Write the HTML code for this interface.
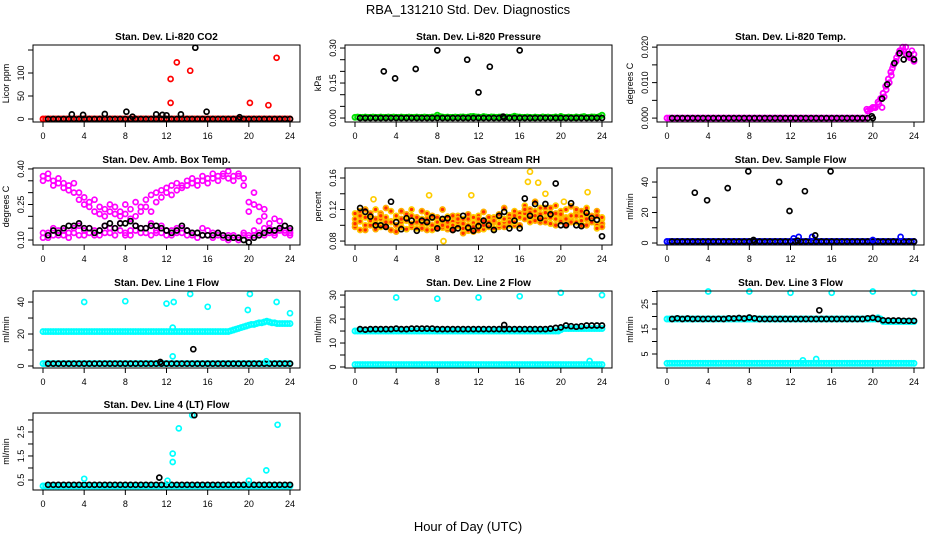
<!DOCTYPE html>
<html><head><meta charset="utf-8"><style>
body{margin:0;background:#fff}
svg{display:block;font-family:"Liberation Sans",Arial,sans-serif}
</style></head><body>
<svg id="c" width="936" height="540" viewBox="0 0 936 540">
<rect width="936" height="540" fill="#fff"/>
<text x="468" y="14" text-anchor="middle" font-size="13">RBA_131210  Std. Dev. Diagnostics</text>
<text x="468" y="531" text-anchor="middle" font-size="13">Hour of Day (UTC)</text>
</svg>
<script>
const xTicks=[0,4,8,12,16,20,24];
const titles=["Stan. Dev. Li-820 CO2","Stan. Dev. Li-820 Pressure","Stan. Dev. Li-820 Temp.","Stan. Dev. Amb. Box Temp.","Stan. Dev. Gas Stream RH","Stan. Dev. Sample Flow","Stan. Dev. Line 1 Flow","Stan. Dev. Line 2 Flow","Stan. Dev. Line 3 Flow","Stan. Dev. Line 4 (LT) Flow"];
const yTitles=["Licor ppm","kPa","degrees C","degrees C","percent","ml/min","ml/min","ml/min","ml/min","ml/min"];
const yTicks=[[0,50,100,150],[0,0.05,0.1,0.15,0.2,0.25,0.3],[0,0.005,0.01,0.015,0.02],[0.1,0.15,0.2,0.25,0.3,0.35,0.4],[0.08,0.1,0.12,0.14,0.16],[0,10,20,30,40],[0,10,20,30,40],[0,5,10,15,20,25,30],[5,10,15,20,25,30],[0.5,1,1.5,2,2.5,3]];
const yLabels=[["0","50","100",""],["0.00","","","0.15","","","0.30"],["0.000","","0.010","","0.020"],["0.10","","","0.25","","","0.40"],["0.08","","0.12","","0.16"],["0","","20","","40"],["0","","20","","40"],["0","","10","","20","","30"],["5","","15","","25",""],["0.5","","1.5","","2.5",""]];
const yRanges=[[-6.5,160.9],[-0.017,0.313],[-0.0011,0.0206],[0.079,0.404],[0.075,0.1727],[-1.3,49.2],[-1.25,46.9],[-0.42,31.7],[-0.6,30.2],[0.083,3.29]];

const co2Red=[0,0,0,0,0,0,0,0,0,0, 0,0,0,0,0,0,0,0,0,0, 0,0,0,0,0,0,0,0,0,0, 0,0,0,0,0,0,0,0,0,0, 0,0,0,0,0,0,0,0,0,0, 0,0,0,0,0,0,0,0,0,0, 0,0,0,0,0,0,0,0,0,0, 0,0,0,0,0,0,0,0,0,0, 0,0,0,0,0,0,0,0,0,0, 0,0,0,0,0,0,0];
const co2Black=[0,0,0,0,0,0,0,0,0,0, 0,0,0,0,0,0,0,0,0,0, 0,0,0,0,0,0,0,0,0,0, 0,0,0,0,0,0,0,0,0,0, 0,0,0,0,0,0,0,0];
const co2RedOutT=[12.4,12.4,13,14.3,20.1,21.9,22.7];
const co2RedOutV=[35,87,123,105,35,30,133];
const co2BlkOutT=[2.8,3.9,6,8.1,8.7,11,11.6,12,13.4,14.8,15.9,19.1];
const co2BlkOutV=[10,9,11,16,5,10,9,8,10,155,16,4];

const presGreen=[.003,.004,.003,.003,.004,.003,.003,.004,.003,.003, .004,.003,.003,.004,.003,.004,.003,.003,.004,.003, .003,.004,.003,.003,.004,.003,.003,.004,.003,.003, .004,.005,.012,.006,.004,.003,.004,.003,.003,.004, .003,.004,.005,.003,.004,.006,.007,.005,.004,.003, .006,.004,.003,.005,.004,.003,.004,.005,.003,.004, .003,.004,.008,.005,.004,.003,.003,.004,.003,.002, .004,.003,.002,.005,.003,.004,.002,.003,.005,.002, .007,.003,.002,.004,.003,.002,.005,.003,.004,.006, .002,.003,.005,.004,.003,.006,.012];
const presBlack=[0,0,0,0,0,0,0,0,0,0, 0,0,0,0,0,0,0,0,0,0, 0,0,0,0,0,0,0,0,0,0, 0,0,0,0,0,0,0,0,0,0, 0,0,0,0,0,0,0,0];
const presOutT=[2.8,3.9,5.9,8,10.9,12,13.1,16,14.4];
const presOutV=[0.2,0.17,0.21,0.29,0.25,0.11,0.22,0.29,0.006];

const tempMag=[0,0,0,0,0,0,0,0,0,0, 0,0,0,0,0,0,0,0,0,0, 0,0,0,0,0,0,0,0,0,0, 0,0,0,0,0,0,0,0,0,0, 0,0,0,0,0,0,0,0,0,0, 0,0,0,0,0,0,0,0,0,0, 0,0,0,0,0,0,0,0,0,0, 0,0,0,0,0,0,0,0,.002,.0025, .003,.003,.0045,.0055,.007,.009,.011,.013,.015,.016, .018,.019,.019,.018,.0175,.017,.016];
const tempMag2=[.0025,.003,.004,.003,.006,.008,.010,.012,.014,.017,.019,.020,.020,.017,.019,.018];
const tempMag2T=[19.4,20.1,20.6,20.9,21.1,21.3,21.6,21.8,21.9,22.3,22.6,22.9,23.2,23.6,23.8,24];
const tempBlack=[0,0,0,0,0,0,0,0,0,0, 0,0,0,0,0,0,0,0,0,0, 0,0,0,0,0,0,0,0,0,0, 0,0,0,0,0,0,0,0,0,0];
const tempOutT=[19.9,20.9,21.4,22.1,22.6,23,23.5,24];
const tempOutV=[0.0005,0.0055,0.0095,0.0155,0.0183,0.0165,0.018,0.0165];

const ambA=[.37,.38,.35,.36,.34,.33,.34,.30,.28,.26,.27,.24,.23,.25,.24,.22,.25,.23,.26,.24,.27,.29,.30,.31,.32,.33,.34,.33,.35,.36,.35,.37,.36,.38,.37,.38,.39,.37,.38,.36,.26,.30,.24,.20,.17,.19,.15,.16,.13];
const ambB=[.35,.36,.33,.34,.32,.31,.30,.27,.25,.24,.22,.21,.20,.22,.21,.20,.21,.19,.20,.22,.24,.22,.26,.28,.30,.29,.31,.32,.33,.34,.33,.35,.34,.36,.35,.37,.36,.35,.37,.33,.22,.25,.18,.23,.15,.14,.18,.13,.14];
const ambC=[.11,.13,.12,.14,.12,.13,.15,.12,.14,.13,.12,.14,.13,.15,.12,.14,.13,.12,.14,.15,.13,.12,.14,.13,.12,.14,.13,.15,.12,.13,.11,.12,.14,.13,.12,.11,.12,.11,.10,.12,.11,.12,.13,.12,.14,.13,.14,.13,.12];
const ambD=[.13,.11,.15,.12,.14,.11,.13,.16,.12,.15,.14,.12,.16,.13,.15,.17,.12,.14,.16,.13,.15,.17,.13,.16,.14,.12,.15,.13,.14,.12,.13,.15,.12,.11,.13,.12,.10,.12,.11,.13,.12,.14,.12,.15,.13,.12,.15,.14,.13];
const ambBlack=[.12,.14,.13,.15,.16,.16,.17,.15,.15,.13,.14,.16,.17,.15,.17,.17,.18,.16,.15,.15,.16,.16,.15,.14,.13,.14,.16,.14,.13,.13,.12,.12,.12,.13,.12,.11,.11,.11,.10,.09,.11,.12,.13,.14,.14,.15,.16,.15];

const rh1=[.115,.105,.100,.112,.120,.108,.098,.118,.110,.104,.095,.112,.106,.100,.115,.109,.102,.097,.111,.105,.099,.108,.093,.103,.112,.106,.100,.096,.110,.104,.113,.118,.112,.125,.110,.118,.122,.108,.115,.125,.112,.120,.108,.116,.111,.122,.105,.100,.108];
const rh2=[.098,.112,.120,.100,.095,.115,.122,.105,.092,.118,.108,.098,.104,.118,.094,.100,.110,.120,.095,.112,.104,.090,.108,.098,.094,.117,.110,.104,.098,.122,.108,.100,.115,.108,.120,.130,.104,.122,.110,.115,.105,.100,.124,.112,.118,.100,.112,.118,.102];
const rh3=[.108,.094,.110,.106,.102,.098,.110,.104,.112,.098,.106,.120,.096,.108,.102,.094,.104,.106,.098,.100,.112,.096,.100,.110,.102,.095,.104,.110,.102,.108,.100,.104,.110,.115,.104,.112,.108,.116,.102,.108,.118,.110,.112,.104,.106,.114,.108,.096,.110];
const rh4=[.102,.118,.094,.115,.108,.112,.104,.094,.100,.108,.114,.102,.110,.096,.108,.112,.096,.100,.104,.094,.108,.102,.114,.092,.108,.100,.098,.106,.114,.098,.104,.112,.100,.120,.116,.106,.114,.104,.122,.100,.114,.108,.104,.120,.100,.108,.104,.112,.098];
const rhOutT=[8.6,7.2,11.3,17,16.8,17.8,22.6,20.3,18.5,1.8];
const rhOutV=[0.08,0.138,0.138,0.168,0.155,0.154,0.142,0.13,0.14,0.133];
const rhBlack=[.122,.117,.111,.100,.100,.098,.130,.104,.095,.109,.106,.093,.106,.104,.110,.096,.108,.109,.094,.096,.112,.097,.093,.099,.106,.100,.094,.112,.117,.096,.106,.096,.134,.112,.127,.109,.127,.114,.153,.100,.100,.128,.100,.099,.116,.109,.107,.086];

const sampBlue=[1,1,1,1,1,1,1,1,1,1, 1,1,1,1,1,1,1,1,1,1, 1,1,1,1,1,1,1,1,1,1, 1,1,1,1,1,1,1,1,1,1, 1,1,1,1,1,1,1,1,1,1, 1,1,1,1,1,1,1,1,1,1, 1,1,1,1,1,1,1,1,1,1, 1,1,1,1,1,1,1,1,1,1, 1,1,1,1,1,1,1,1,1,1, 1,1,1,1,1,1,1];
const sampBlack=[1,1,1,1,1,1,1,1,1,1, 1,1,1,1,1,1,1,1,1,1, 1,1,1,1,1,1,1,1,1,1, 1,1,1,1,1,1,1,1,1,1, 1,1,1,1,1,1,1,1];
const sampBlueOutT=[12.3,12.8,14.1,20,22.7];
const sampBlueOutV=[3,4,4,2,4];
const sampBlkOutT=[2.7,3.9,5.9,7.9,8.4,10.9,11.9,12.7,13.4,14.4,15.9];
const sampBlkOutV=[33,28,36,47,2,40,21,1.5,34,5,47];

const l1High=[21.5,21.5,21.5,21.5,21.5,21.5,21.5,21.5,21.5,21.5, 21.5,21.5,21.5,21.5,21.5,21.5,21.5,21.5,21.5,21.5, 21.5,21.5,21.5,21.5,21.5,21.5,21.5,21.5,21.5,21.5, 21.5,21.5,21.5,21.5,21.5,21.5,21.5,21.5,21.5,21.5, 21.5,21.5,21.5,21.5,21.5,21.5,21.5,21.5,21.5,21.5, 21.5,21.5,21.5,21.5,21.5,21.5,21.5,21.5,21.5,21.5, 21.5,21.5,21.5,21.5,21.5,21.5,21.5,21.5,21.5,21.5, 21.5,21.5,21.5,22,22.5,23,23.5,24,24.5,25, 25.5,26,26,26.5,27,27,27.5,28,27.5,27, 27,26.5,26.5,26.5,26.5,26.5,26.5];
const l1Low=[1.5,1.5,1.5,1.5,1.5,1.5,1.5,1.5,1.5,1.5, 1.5,1.5,1.5,1.5,1.5,1.5,1.5,1.5,1.5,1.5, 1.5,1.5,1.5,1.5,1.5,1.5,1.5,1.5,1.5,1.5, 1.5,1.5,1.5,1.5,1.5,1.5,1.5,1.5,1.5,1.5, 1.5,1.5,1.5,1.5,1.5,1.5,1.5,1.5,1.5,1.5, 1.5,1.5,1.5,1.5,1.5,1.5,1.5,1.5,1.5,1.5, 1.5,1.5,1.5,1.5,1.5,1.5,1.5,1.5,1.5,1.5, 1.5,1.5,1.5,1.5,1.5,1.5,1.5,1.5,1.5,1.5, 1.5,1.5,1.5,1.5,1.5,1.5,1.5,1.5,1.5,1.5, 1.5,1.5,1.5,1.5,1.5,1.5,1.5];
const l1Black=[1.5,1.5,1.5,1.5,1.5,1.5,1.5,1.5,1.5,1.5, 1.5,1.5,1.5,1.5,1.5,1.5,1.5,1.5,1.5,1.5, 1.5,1.5,1.5,1.5,1.5,1.5,1.5,1.5,1.5,1.5, 1.5,1.5,1.5,1.5,1.5,1.5,1.5,1.5,1.5,1.5, 1.5,1.5,1.5,1.5,1.5,1.5,1.5,1.5];
const l1CyOutT=[4,8,12,12.7,14.3,16,19.9,20.1,22.7,24,12.6,12.6,21.7];
const l1CyOutV=[40,40.5,39,40,45,37,35,45,40,33,24,6,3];
const l1BlkOutT=[11.4,14.6];
const l1BlkOutV=[2.5,10.5];

const l2High=[15,15,15,15,15,15,15,15,15,15, 15,15,15,15,15,15,15,15,15,15, 15,15,15,15,15,15,15,15,15,15, 15,15,15,15,15,15,15,15,15,15, 15,15,15,15,15,15,15,15,15,15, 15,15,15,15,15,15,15,15,15,15, 15,15,15,15,15,15,15,15,15,15, 15,15,15,15,15,15,15,15,15,15, 15.5,16,16,16,16,16,16,16,16,16, 16,16,16,16,16,16,16];
const l2Low=[1,1,1,1,1,1,1,1,1,1, 1,1,1,1,1,1,1,1,1,1, 1,1,1,1,1,1,1,1,1,1, 1,1,1,1,1,1,1,1,1,1, 1,1,1,1,1,1,1,1,1,1, 1,1,1,1,1,1,1,1,1,1, 1,1,1,1,1,1,1,1,1,1, 1,1,1,1,1,1,1,1,1,1, 1,1,1,1,1,1,1,1,1,1, 1,1,1,1,1,1,1];
const l2Black=[15.8,15.6,15.8,15.8,15.8,15.8,15.8,16,15.8,15.8, 16,16,16,16,16,15.8,15.8,15.8,15.8,15.8, 15.8,15.8,15.8,15.8,15.8,15.8,15.8,15.8,15.8,15.8, 15.8,15.8,15.8,15.8,15.8,15.8,15.8,16,16.3,16.5, 17.3,17,16.8,17,17.3,17.3,17.3,17.3];
const l2CyOutT=[4,8,12,16,20,24,22.8];
const l2CyOutV=[29,28.5,29,29.5,31,30,2.5];
const l2BlkOutT=[14.5];
const l2BlkOutV=[17.5];

const l3High=[19,19,19,19,19,19,19,19,19,19, 19,19,19,19,19,19,19,19,19,19, 19,19,19,19,19,19,19,19,19,19, 19,19,19,19,19,19,19,19,19,19, 19,19,19,19,19,19,19,19,19,19, 19,19,19,19,19,19,19,19,19,19, 19,19,19,19,19,19,19,19,19,19, 19,19,19,19,19,19,19,19,19,19, 19,19,19.5,19,18,18,18,18,18,18, 18,18,18,18,18,18,18];
const l3Low=[1.3,1.3,1.3,1.3,1.3,1.3,1.3,1.3,1.3,1.3, 1.3,1.3,1.3,1.3,1.3,1.3,1.3,1.3,1.3,1.3, 1.3,1.3,1.3,1.3,1.3,1.3,1.3,1.3,1.3,1.3, 1.3,1.3,1.3,1.3,1.3,1.3,1.3,1.3,1.3,1.3, 1.3,1.3,1.3,1.3,1.3,1.3,1.3,1.3,1.3,1.3, 1.3,1.3,1.3,1.3,1.3,1.3,1.3,1.3,1.3,1.3, 1.3,1.3,1.3,1.3,1.3,1.3,1.3,1.3,1.3,1.3, 1.3,1.3,1.3,1.3,1.3,1.3,1.3,1.3,1.3,1.3, 1.3,1.3,1.3,1.3,1.3,1.3,1.3,1.3,1.3,1.3, 1.3,1.3,1.3,1.3,1.3,1.3,1.3];
const l3Black=[19,19.3,19,19.2,19,19.1,19,19.1,19,19.1, 19,19.3,19.2,19.4,19.2,19.6,19.3,19,19,19, 19,19,19,19,19,19,19,19,19,19, 19,19,19,19,19,19,19,19,19.3,19.5, 19,18.5,18.4,18.4,18.4,18.3,18.3,18.3];
const l3CyOutT=[4,8,12,16,20,24,13.2,14.5];
const l3CyOutV=[30,30,29.5,29.5,30,29.5,2.5,3];
const l3BlkOutT=[14.8];
const l3BlkOutV=[22.5];

const l4Cyan=[.25,.25,.25,.25,.25,.25,.25,.25,.25,.25, .25,.25,.25,.25,.25,.25,.25,.25,.25,.25, .25,.25,.25,.25,.25,.25,.25,.25,.25,.25, .25,.25,.25,.25,.25,.25,.25,.25,.25,.25, .25,.25,.25,.25,.25,.25,.25,.25,.25,.25, .25,.25,.25,.25,.25,.25,.25,.25,.25,.25, .25,.25,.25,.25,.25,.25,.25,.25,.25,.25, .25,.25,.25,.25,.25,.25,.25,.25,.25,.25, .25,.25,.25,.25,.25,.25,.25,.25,.25,.25, .25,.25,.25,.25,.25,.25,.25];
const l4Black=[.3,.3,.3,.3,.3,.3,.3,.3,.3,.3, .3,.3,.3,.3,.3,.3,.3,.3,.3,.3, .3,.3,.3,.3,.3,.3,.3,.3,.3,.3, .3,.3,.3,.3,.3,.3,.3,.3,.3,.3, .3,.3,.3,.3,.3,.3,.3,.3];
const l4CyOutT=[4,12.1,12.6,12.6,13.2,14.5,20,21.7,22.8];
const l4CyOutV=[0.55,0.47,1.6,1.25,2.65,3.2,0.47,0.9,2.8];
const l4BlkOutT=[11.3,14.7];
const l4BlkOutV=[0.6,3.2];

const series=[
 [['b',co2Red,'#ff0000'],['k',co2Black,'#000'],['o',co2RedOutV,'#ff0000',co2RedOutT],['o',co2BlkOutV,'#000',co2BlkOutT]],
 [['b',presGreen,'#00e000'],['k',presBlack,'#000'],['o',presOutV,'#000',presOutT]],
 [['b',tempMag,'#ff00ff'],['o',tempMag2,'#ff00ff',tempMag2T],['k',tempBlack,'#000'],['o',tempOutV,'#000',tempOutT]],
 [['h',ambA,'#ff00ff'],['h',ambB,'#ff00ff'],['h',ambC,'#ff00ff'],['h',ambD,'#ff00ff'],['k',ambBlack,'#000']],
 [['h',rh1,'#ffcc00','','#ff2a00'],['h',rh2,'#ffb000','','#ff2a00'],['h',rh3,'#ffcc00','','#ff2a00'],['h',rh4,'#ffb000','','#ff2a00'],['o',rhOutV,'#ffcc00',rhOutT],['k',rhBlack,'#000']],
 [['b',sampBlue,'#0000ff'],['k',sampBlack,'#000'],['o',sampBlueOutV,'#0000ff',sampBlueOutT],['o',sampBlkOutV,'#000',sampBlkOutT]],
 [['b',l1High,'#00ffff'],['b',l1Low,'#00ffff'],['k',l1Black,'#000'],['o',l1CyOutV,'#00ffff',l1CyOutT],['o',l1BlkOutV,'#000',l1BlkOutT]],
 [['b',l2High,'#00ffff'],['b',l2Low,'#00ffff'],['k',l2Black,'#000'],['o',l2CyOutV,'#00ffff',l2CyOutT],['o',l2BlkOutV,'#000',l2BlkOutT]],
 [['b',l3High,'#00ffff'],['b',l3Low,'#00ffff'],['k',l3Black,'#000'],['o',l3CyOutV,'#00ffff',l3CyOutT],['o',l3BlkOutV,'#000',l3BlkOutT]],
 [['b',l4Cyan,'#00ffff'],['k',l4Black,'#000'],['o',l4CyOutV,'#00ffff',l4CyOutT],['o',l4BlkOutV,'#000',l4BlkOutT]]
];

const svg=document.getElementById('c');
const NS='http://www.w3.org/2000/svg';
function mk(tag,attrs,parent){const e=document.createElementNS(NS,tag);for(const k in attrs)e.setAttribute(k,attrs[k]);(parent||svg).appendChild(e);return e;}
const colL=[33,345,657],rowT=[45,168,291,413],W=267,H=77;
for(let p=0;p<10;p++){
  const L=colL[p%3],T=rowT[Math.floor(p/3)];
  const xs=h=>L+10+h*(247/24);
  const [lo,hi]=yRanges[p];
  const ys=v=>T+H-(v-lo)/(hi-lo)*H;
  const g=mk('g',{});
  
  
  const t=mk('text',{x:L+W/2,y:T-5,'text-anchor':'middle','font-size':10,'font-weight':'bold'},g);
  t.textContent=titles[p];
  
  
  const yt=mk('text',{x:0,y:0,'text-anchor':'middle','font-size':9,transform:`translate(${L-24},${T+H/2}) rotate(-90)`},g);
  yt.textContent=yTitles[p];
  
  
  const clip=mk('g',{},g);
  
  
  for(const s of series[p]){
    const [kind,vals,col,times,fillc]=s;
    vals.forEach((v,i)=>{
      let h= kind==='b'? i*0.25 : kind==='k'? 0.5+i*0.5 : kind==='h'? i*0.5 : times[i];
      if(h>24.3)return;
      const c=mk('circle',{cx:xs(h).toFixed(1),cy:ys(v).toFixed(1),r:2.5,fill:fillc||'none',stroke:col,'stroke-width':kind==='b'?1.9:1.7},clip);
      
      
    });
  }
  const box=mk('rect',{x:L,y:T,width:W,height:H,fill:'none',stroke:'#000','stroke-width':1},g);
  
  
  xTicks.forEach(h=>{
    mk('line',{x1:xs(h),x2:xs(h),y1:T+H,y2:T+H+5,stroke:'#000'},g);
    const tx=mk('text',{x:xs(h),y:T+H+17,'text-anchor':'middle','font-size':9},g);
    tx.textContent=h;
    
    
  });
  yTicks[p].forEach((v,i)=>{
    mk('line',{x1:L-5,x2:L,y1:ys(v),y2:ys(v),stroke:'#000'},g);
    if(yLabels[p][i]){
      const ty=mk('text',{x:0,y:0,'text-anchor':'middle','font-size':9,transform:`translate(${L-9},${ys(v)}) rotate(-90)`},g);
      ty.textContent=yLabels[p][i];
      
      
    }
  });
}
</script>
</body></html>
